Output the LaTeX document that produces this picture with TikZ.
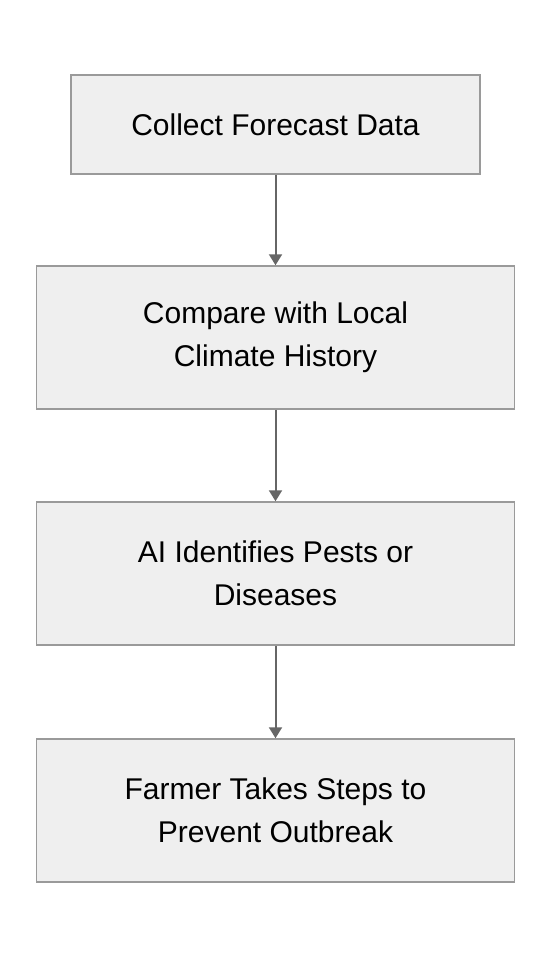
\documentclass[tikz,border=0pt]{standalone}
\usepackage{fontspec}
\setmainfont{Liberation Sans}
\usetikzlibrary{%
  arrows.meta,%
  positioning% wg. " of "
}
\definecolor{boxfill}{HTML}{EFEFEF}
\definecolor{boxline}{HTML}{9A9A9A}
\definecolor{arrowline}{HTML}{666666}

\begin{document}
\begin{tikzpicture}[step1/.style={
	rectangle,
	minimum width=409pt,
	minimum height=99pt,
	line width=1.5pt,
	draw=boxline,
	fill=boxfill,
	align=center,
	font=\fontsize{30}{43}\selectfont
	},process/.style={
	rectangle,
	minimum width=478pt,
	minimum height=143pt,
	line width=1.5pt,
	draw=boxline,
	fill=boxfill,
	align=center,
	font=\fontsize{30}{43}\selectfont
	},flow/.style={
	line width=2pt,draw=arrowline,
	-{Triangle[length=11pt,width=13pt]}
	}
]
\useasboundingbox (0,0) rectangle (552pt,-956pt);

% boxes
\node (collect) [step1] at (275.5pt,-124.5pt) {Collect Forecast Data};
\node (compare) [process,below=90.5pt of collect] {Compare with Local\\Climate History};
\node (identify) [process,below=91.5pt of compare] {AI Identifies Pests or\\Diseases};
\node (prevent) [process,below=92.5pt of identify] {Farmer Takes Steps to\\Prevent Outbreak};

% arrows
\draw[flow] (collect) -- (compare);
\draw[flow] (compare) -- (identify);
\draw[flow] (identify) -- (prevent);

\end{tikzpicture}
\end{document}
